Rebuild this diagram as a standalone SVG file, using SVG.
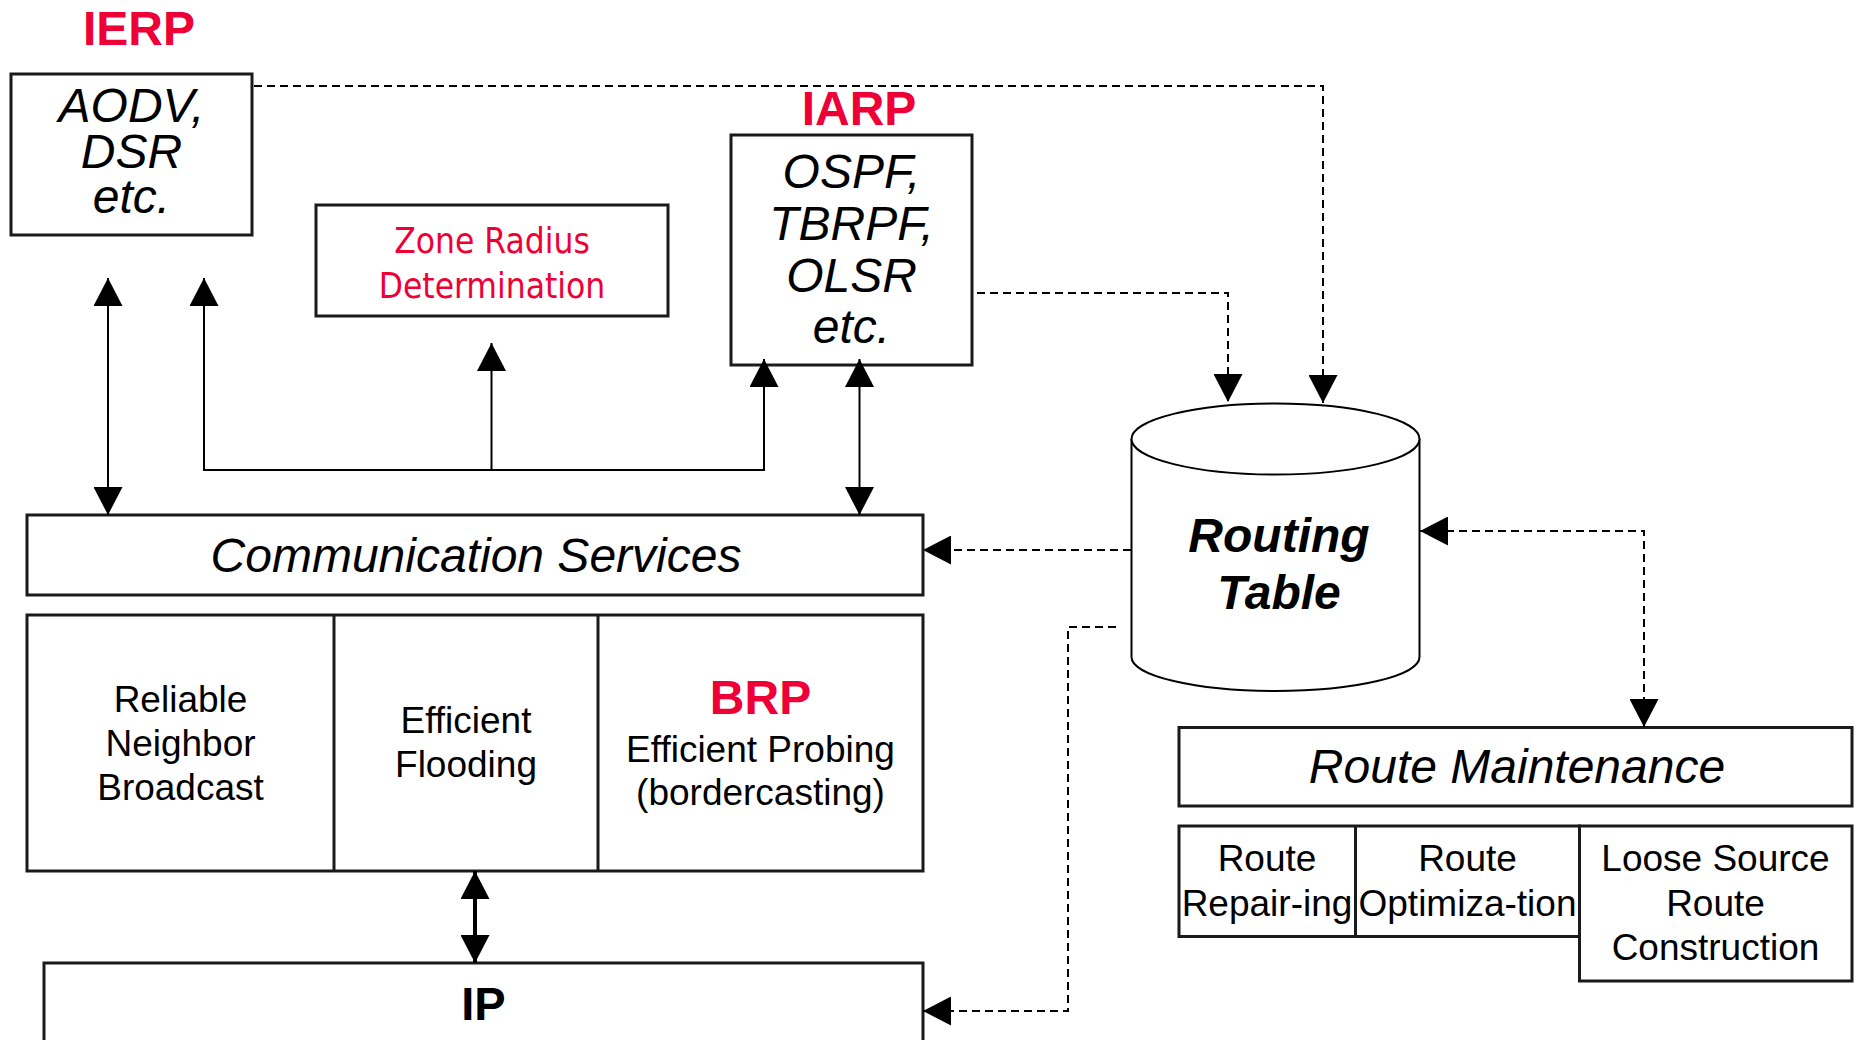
<svg xmlns="http://www.w3.org/2000/svg" width="1858" height="1040" viewBox="0 0 1858 1040">
  <style>
    .box { fill: #fff; stroke: #1a1a1a; stroke-width: 3; }
    .sep { stroke: #1a1a1a; stroke-width: 3; fill: none; }
    .ln { stroke: #000; stroke-width: 2; fill: none; }
    .thick { stroke: #000; stroke-width: 4; fill: none; }
    .dash { stroke: #000; stroke-width: 2; fill: none; stroke-dasharray: 8 5; }
    .t { font-family: "Liberation Sans", Arial, sans-serif; text-anchor: middle; fill: #000; }
    .big { font-size: 48px; font-style: italic; }
    .mid { font-size: 37px; }
    .tag { font-size: 48px; font-weight: bold; fill: #ee0036; }
    .zone { font-family: "DejaVu Sans Condensed", "DejaVu Sans", Verdana, sans-serif; font-stretch: condensed; font-size: 35px; fill: #ee0036; text-anchor: middle; }
  </style>
  <defs>
    <marker id="head" markerUnits="userSpaceOnUse" markerWidth="28" markerHeight="29" refX="28" refY="14.5" orient="auto-start-reverse" viewBox="0 0 28 29">
      <path d="M0,0 L28,14.5 L0,29 Z" fill="#000"/>
    </marker>
  </defs>

  <rect width="1858" height="1040" fill="#fff"/>

  <!-- IERP: reactive inter-zone protocols -->
  <g id="ierp">
    <text class="t tag" x="139" y="45">IERP</text>
    <rect class="box" x="11" y="74" width="241" height="161"/>
    <text class="t big" x="131.5" y="122">AODV,</text>
    <text class="t big" x="131.5" y="168">DSR</text>
    <text class="t big" x="131.5" y="213">etc.</text>
  </g>

  <!-- Zone radius determination -->
  <g id="zone-radius">
    <rect class="box" x="316" y="205" width="352" height="111" stroke-width="2.5"/>
    <text class="zone" x="492" y="253">Zone Radius</text>
    <text class="zone" x="492" y="298">Determination</text>
  </g>

  <!-- IARP: proactive intra-zone protocols -->
  <g id="iarp">
    <text class="t tag" x="859" y="125">IARP</text>
    <rect class="box" x="731" y="135" width="241" height="230"/>
    <text class="t big" x="851.5" y="188">OSPF,</text>
    <text class="t big" x="851.5" y="240">TBRPF,</text>
    <text class="t big" x="851.5" y="292">OLSR</text>
    <text class="t big" x="851.5" y="343">etc.</text>
  </g>

  <!-- Communication services layer -->
  <g id="comm-services">
    <rect class="box" x="27" y="515" width="896" height="80"/>
    <text class="t big" x="476" y="572">Communication Services</text>
  </g>

  <g id="services">
    <rect class="box" x="27" y="615" width="896" height="256"/>
    <line class="sep" x1="334" y1="615" x2="334" y2="871"/>
    <line class="sep" x1="598" y1="615" x2="598" y2="871"/>
    <text class="t mid" x="180.5" y="712">Reliable</text>
    <text class="t mid" x="180.5" y="756">Neighbor</text>
    <text class="t mid" x="180.5" y="800">Broadcast</text>
    <text class="t mid" x="466" y="733">Efficient</text>
    <text class="t mid" x="466" y="777">Flooding</text>
    <text class="t tag" x="760.5" y="714" font-size="45">BRP</text>
    <text class="t mid" x="760.5" y="762">Efficient Probing</text>
    <text class="t mid" x="760.5" y="805">(bordercasting)</text>
  </g>

  <!-- IP layer -->
  <g id="ip">
    <rect class="box" x="44" y="963" width="879" height="90"/>
    <text class="t" x="483.5" y="1020" font-size="47" font-weight="bold">IP</text>
  </g>

  <!-- Routing table store -->
  <g id="routing-table">
    <path d="M1131.5,439 V657 A144,34 0 0 0 1419.5,657 V439" fill="#fff" stroke="#000" stroke-width="2"/>
    <ellipse cx="1275.5" cy="439" rx="144" ry="35.5" fill="#fff" stroke="#000" stroke-width="2"/>
    <text class="t" x="1279" y="552" font-size="48" font-weight="bold" font-style="italic">Routing</text>
    <text class="t" x="1279" y="609" font-size="48" font-weight="bold" font-style="italic">Table</text>
  </g>

  <!-- Route maintenance -->
  <g id="route-maintenance">
    <rect class="box" x="1179" y="727.5" width="673" height="78.5"/>
    <text class="t big" x="1517" y="783">Route Maintenance</text>
  </g>

  <g id="maintenance-tasks">
    <rect class="box" x="1179" y="826" width="400.5" height="110.5"/>
    <line class="sep" x1="1355.5" y1="826" x2="1355.5" y2="936.5"/>
    <rect class="box" x="1579.5" y="826" width="272.5" height="155"/>
    <text class="t mid" x="1267" y="871">Route</text>
    <text class="t mid" x="1267" y="916">Repair-ing</text>
    <text class="t mid" x="1467.5" y="871">Route</text>
    <text class="t mid" x="1467.5" y="916">Optimiza-tion</text>
    <text class="t mid" x="1715.5" y="871">Loose Source</text>
    <text class="t mid" x="1715.5" y="916">Route</text>
    <text class="t mid" x="1715.5" y="960">Construction</text>
  </g>

  <!-- Connectors -->
  <g id="connectors">
    <path class="ln" d="M108,278 V515" marker-start="url(#head)" marker-end="url(#head)"/>
    <path class="ln" d="M204,278 V470 H764 V359" marker-start="url(#head)" marker-end="url(#head)"/>
    <path class="ln" d="M491.5,470 V343" marker-end="url(#head)"/>
    <path class="ln" d="M859.5,359 V515" marker-start="url(#head)" marker-end="url(#head)"/>
    <path class="thick" d="M475,871 V963" marker-start="url(#head)" marker-end="url(#head)"/>

    <path class="dash" d="M254,86 H1323 V403" marker-end="url(#head)"/>
    <path class="dash" d="M977,293 H1228 V402" marker-end="url(#head)"/>
    <path class="dash" d="M1131,550 H923" marker-end="url(#head)"/>
    <path class="dash" d="M1116,627 H1068 V1011 H923" marker-end="url(#head)"/>
    <path class="dash" d="M1420,531 H1644 V727" marker-start="url(#head)" marker-end="url(#head)"/>
  </g>
</svg>
